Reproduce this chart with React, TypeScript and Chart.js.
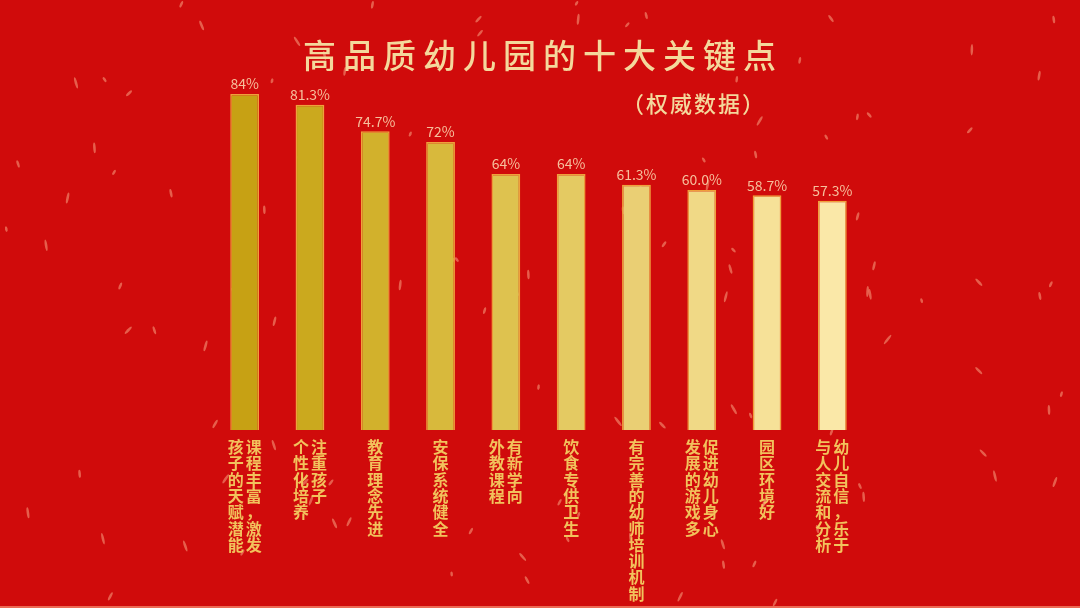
import React, { useEffect, useRef } from "react";
import { Chart, registerables } from "chart.js";

Chart.register(...registerables);

const titleText = "高品质幼儿园的十大关键点";
const subtitleText = "（权威数据）";
const categories = [
  ["课程丰富，激发", "孩子的天赋潜能"],
  ["注重孩子", "个性化培养"],
  ["教育理念先进"],
  ["安保系统健全"],
  ["有新学向", "外教课程"],
  ["饮食专供卫生"],
  ["有完善的幼师培训机制"],
  ["促进幼儿身心", "发展的游戏多"],
  ["园区环境好"],
  ["幼儿自信，乐于", "与人交流和分析"],
];
const values = [84, 81.3, 74.7, 72, 64, 64, 61.3, 60.0, 58.7, 57.3];
const valueLabels = ["84%", "81.3%", "74.7%", "72%", "64%", "64%", "61.3%", "60.0%", "58.7%", "57.3%"];
const barColors = [
  "#c7a114", "#cba91e", "#d2b12c", "#d8b93c", "#dec24f",
  "#e4ca62", "#eacf74", "#f0d986", "#f6e198", "#fae8a8",
];

const FONT = '"Noto Sans CJK SC", "Noto Sans", sans-serif';

const decorPlugin = {
  id: "decor",
  beforeDraw(chart: any) {
    const ctx = chart.ctx;
    const w = chart.width;
    const h = chart.height;
    ctx.save();
    ctx.fillStyle = "#d00b0b";
    ctx.fillRect(0, 0, w, h);
    ctx.fillStyle = "#ec6a55";
    ctx.fillRect(0, h - 2, w, 2);
    // decorative flecks (deterministic sequence)
    let s = 12345;
    const next = () => {
      s = (s * 1103515245 + 12345) % 2147483648;
      return s / 2147483648;
    };
    ctx.fillStyle = "rgba(245,150,120,0.6)";
    for (let i = 0; i < 130; i++) {
      const x = next() * w;
      const y = next() * h;
      const ang = (next() - 0.5) * 1.6;
      const len = 2.5 + next() * 3.5;
      ctx.save();
      ctx.translate(x, y);
      ctx.rotate(ang);
      ctx.beginPath();
      ctx.ellipse(0, 0, 1.3, len, 0, 0, Math.PI * 2);
      ctx.fill();
      ctx.restore();
    }
    ctx.fillStyle = "#f4d89c";
    ctx.textBaseline = "middle";
    ctx.textAlign = "center";
    ctx.font = `500 33px ${FONT}`;
    (ctx as any).letterSpacing = "7px";
    ctx.fillText(titleText, 543, 55);
    ctx.font = `500 22px ${FONT}`;
    (ctx as any).letterSpacing = "2px";
    ctx.fillText(subtitleText, 694, 104);
    (ctx as any).letterSpacing = "0px";
    ctx.restore();
  },
  afterDatasetsDraw(chart: any) {
    const ctx = chart.ctx;
    const meta = chart.getDatasetMeta(0);
    const xScale = chart.scales.x;
    const bottom = chart.chartArea.bottom;
    ctx.save();
    ctx.textAlign = "center";
    ctx.textBaseline = "bottom";
    ctx.fillStyle = "#f6bf9c";
    ctx.font = `14px ${FONT}`;
    meta.data.forEach((bar: any, i: number) => {
      ctx.fillText(valueLabels[i], bar.x, bar.y - 3);
    });
    ctx.fillStyle = "#f2c25c";
    ctx.font = `bold 16px ${FONT}`;
    ctx.textBaseline = "top";
    const colGap = 18;
    const charH = 16.3;
    categories.forEach((cols, i) => {
      const cx = xScale.getPixelForValue(i);
      const n = cols.length;
      cols.forEach((col, c) => {
        const x = cx + ((n - 1) / 2) * colGap - c * colGap;
        Array.from(col).forEach((ch, k) => {
          ctx.fillText(ch, x, bottom + 9 + k * charH);
        });
      });
    });
    ctx.restore();
  },
};

export default function App() {
  const ref = useRef<HTMLCanvasElement>(null);
  useEffect(() => {
    document.body.style.margin = "0";
    const chart = new Chart(ref.current!, {
      type: "bar",
      data: {
        labels: categories.map((c) => c.join("")),
        datasets: [
          {
            data: values,
            backgroundColor: barColors,
            borderColor: "#f0a03c",
            borderWidth: 1.5,
            barPercentage: 0.9,
            categoryPercentage: 0.49,
          },
        ],
      },
      options: {
        animation: false,
        responsive: false,
        layout: { padding: { left: 212, right: 215, top: 70, bottom: 178 } },
        plugins: { legend: { display: false }, tooltip: { enabled: false }, title: { display: false } },
        scales: {
          x: { display: false, grid: { display: false } },
          y: { display: false, min: 0, max: 90 },
        },
      },
      plugins: [decorPlugin],
    });
    return () => chart.destroy();
  }, []);
  return (
    <div style={{ width: 1080, height: 608 }}>
      <canvas ref={ref} width={1080} height={608} style={{ display: "block" }} />
    </div>
  );
}
